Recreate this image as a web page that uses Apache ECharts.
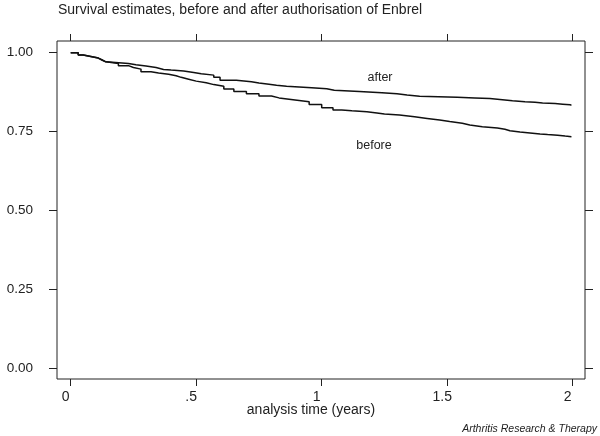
<!DOCTYPE html>
<html>
<head>
<meta charset="utf-8">
<script src="https://cdn.jsdelivr.net/npm/echarts@6/dist/echarts.min.js"></script>
<style>html,body{margin:0;padding:0;background:#fff}#c{width:600px;height:436px}</style>
</head>
<body>
<div id="c"></div>
<script>
// Kaplan-Meier step points (time in years, survival estimate)
var afterTimes = [0, 0.03, 0.05, 0.08, 0.11, 0.125, 0.14, 0.23, 0.26, 0.30, 0.34, 0.37, 0.40, 0.45, 0.49, 0.52, 0.57, 0.595, 0.66, 0.72, 0.75, 0.79, 0.82, 0.86, 0.96, 1.02, 1.05, 1.15, 1.24, 1.30, 1.34, 1.37, 1.39, 1.54, 1.61, 1.67, 1.70, 1.76, 1.81, 1.85, 1.88, 1.93, 1.96, 1.99, 1.995];
var afterSurv  = [1.000, 0.993, 0.988, 0.983, 0.977, 0.971, 0.966, 0.962, 0.958, 0.953, 0.947, 0.945, 0.942, 0.937, 0.933, 0.929, 0.922, 0.913, 0.908, 0.904, 0.900, 0.897, 0.894, 0.889, 0.886, 0.881, 0.877, 0.873, 0.870, 0.866, 0.864, 0.862, 0.859, 0.857, 0.855, 0.853, 0.848, 0.845, 0.843, 0.841, 0.839, 0.837, 0.835, 0.834, 0.834];
var beforeTimes = [0, 0.03, 0.05, 0.08, 0.11, 0.125, 0.14, 0.19, 0.23, 0.25, 0.28, 0.32, 0.35, 0.39, 0.42, 0.44, 0.47, 0.50, 0.54, 0.57, 0.61, 0.65, 0.70, 0.75, 0.80, 0.83, 0.87, 0.91, 0.95, 1.00, 1.045, 1.08, 1.12, 1.18, 1.22, 1.25, 1.31, 1.37, 1.42, 1.47, 1.51, 1.56, 1.59, 1.64, 1.70, 1.73, 1.75, 1.79, 1.83, 1.87, 1.90, 1.94, 1.97, 1.995];
var beforeSurv  = [1.000, 0.993, 0.988, 0.983, 0.977, 0.971, 0.966, 0.959, 0.953, 0.948, 0.940, 0.936, 0.932, 0.927, 0.922, 0.916, 0.910, 0.905, 0.899, 0.894, 0.885, 0.877, 0.870, 0.863, 0.857, 0.853, 0.849, 0.845, 0.836, 0.826, 0.819, 0.816, 0.813, 0.809, 0.806, 0.803, 0.797, 0.792, 0.787, 0.782, 0.777, 0.771, 0.766, 0.762, 0.758, 0.753, 0.749, 0.746, 0.743, 0.741, 0.739, 0.736, 0.734, 0.733];
var xTicks = [0, 0.5, 1, 1.5, 2];
var xTickLabels = ['0', '.5', '1', '1.5', '2'];
var yTicks = [0, 0.25, 0.5, 0.75, 1];
var yTickLabels = ['0.00', '0.25', '0.50', '0.75', '1.00'];
var titleText = 'Survival estimates, before and after authorisation of Enbrel';
var xAxisTitle = 'analysis time (years)';
var seriesNames = ['after', 'before'];
var sourceText = 'Arthritis Research & Therapy';

function pairs(t, s) { return t.map(function (v, i) { return [v, s[i]]; }); }
var FONT = "'Liberation Sans', Arial, sans-serif";
var XMIN = -0.0546, XMAX = 2.049, YMIN = -0.0326, YMAX = 1.037;

function xAxisCfg(pos, labels) {
  return {
    type: 'value', position: pos, min: XMIN, max: XMAX,
    axisLine: { show: false, onZero: false },
    splitLine: { show: false },
    axisTick: { show: true, inside: false, length: 7, customValues: xTicks, lineStyle: { color: '#222', width: 1 } },
    axisLabel: {
      show: labels, customValues: xTicks, margin: 11, color: '#222', fontSize: 14, fontFamily: FONT,
      padding: [0, 10, 0, 0],
      formatter: function (v) { var i = xTicks.indexOf(v); return i >= 0 ? xTickLabels[i] : ''; }
    }
  };
}
function yAxisCfg(pos, labels) {
  return {
    type: 'value', position: pos, min: YMIN, max: YMAX,
    axisLine: { show: false, onZero: false },
    splitLine: { show: false },
    axisTick: { show: true, inside: false, length: 8, customValues: yTicks, lineStyle: { color: '#222', width: 1 } },
    axisLabel: {
      show: labels, customValues: yTicks, margin: 24, color: '#222', fontSize: 13.5, fontFamily: FONT,
      formatter: function (v) { var i = yTicks.indexOf(v); return i >= 0 ? yTickLabels[i] : ''; }
    }
  };
}

var chart = echarts.init(document.getElementById('c'), null, { renderer: 'canvas' });
chart.setOption({
  animation: false,
  backgroundColor: '#fff',
  grid: { left: 57, top: 41, right: 15, bottom: 57, show: true, borderColor: '#222', borderWidth: 1, backgroundColor: 'transparent' },
  xAxis: [xAxisCfg('bottom', true), xAxisCfg('top', false)],
  yAxis: [yAxisCfg('left', true), yAxisCfg('right', false)],
  series: [
    { name: seriesNames[0], type: 'line', step: 'end', showSymbol: false, xAxisIndex: 0, yAxisIndex: 0,
      data: pairs(afterTimes, afterSurv), lineStyle: { color: '#111', width: 1.5 } },
    { name: seriesNames[1], type: 'line', step: 'end', showSymbol: false, xAxisIndex: 0, yAxisIndex: 0,
      data: pairs(beforeTimes, beforeSurv), lineStyle: { color: '#111', width: 1.5 } }
  ],
  graphic: [
    { type: 'text', left: 58, top: 3, style: { text: titleText, font: '14px ' + FONT, fill: '#222' } },
    { type: 'text', x: 311, y: 410, style: { text: xAxisTitle, font: '14px ' + FONT, fill: '#222', align: 'center', verticalAlign: 'middle' } },
    { type: 'text', x: 380, y: 78, style: { text: seriesNames[0], font: '12.5px ' + FONT, fill: '#222', align: 'center', verticalAlign: 'middle' } },
    { type: 'text', x: 374, y: 146, style: { text: seriesNames[1], font: '12.5px ' + FONT, fill: '#222', align: 'center', verticalAlign: 'middle' } },
    { type: 'text', x: 597, y: 429, style: { text: sourceText, font: 'italic 10.5px ' + FONT, fill: '#222', align: 'right', verticalAlign: 'middle' } }
  ]
});
</script>
</body>
</html>
